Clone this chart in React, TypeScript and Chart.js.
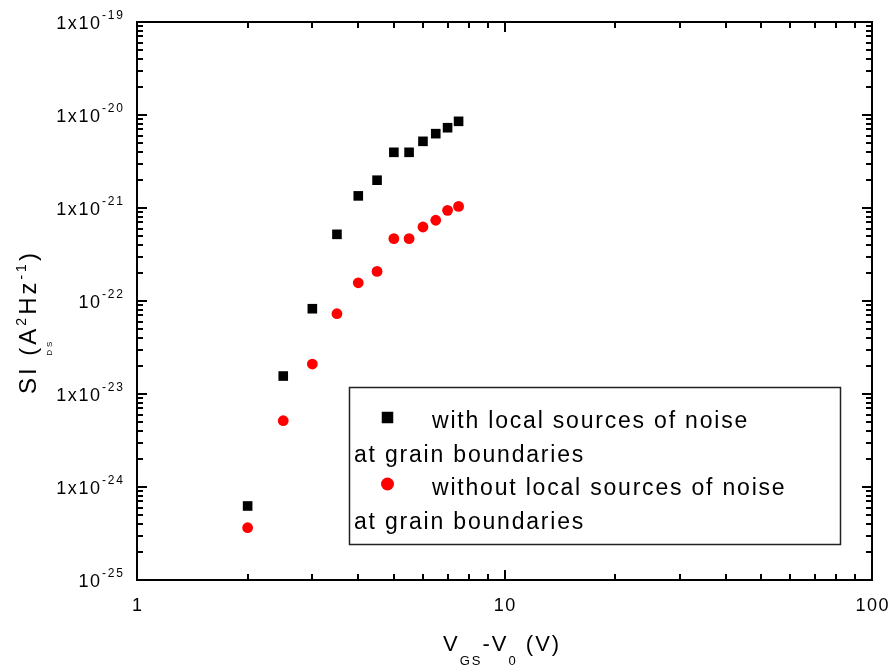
import React, { useEffect, useRef } from 'react';
import { Chart, registerables } from 'chart.js';

Chart.register(...registerables);

const FONT = '"Liberation Sans", Arial, Helvetica, sans-serif';

// ---- data ----
const vgsMinusV0 = [2, 2.5, 3, 3.5, 4, 4.5, 5, 5.5, 6, 6.5, 7, 7.5];
const siWithLocal = [6.25e-25, 1.56e-23, 8.26e-23, 5.21e-22, 1.35e-21, 1.99e-21, 3.97e-21, 3.97e-21, 5.21e-21, 6.3e-21, 7.3e-21, 8.55e-21];
const siWithoutLocal = [3.65e-25, 5.16e-24, 2.1e-23, 7.3e-23, 1.57e-22, 2.08e-22, 4.68e-22, 4.68e-22, 6.25e-22, 7.38e-22, 9.44e-22, 1.04e-21];

const xMin = 1;
const xMax = 100;
const yMin = 1e-25;
const yMax = 1e-19;

const xTickValues = [1, 10, 100];
const xTickLabels = ['1', '10', '100'];
const yTickValues = [1e-19, 1e-20, 1e-21, 1e-22, 1e-23, 1e-24, 1e-25];
const yTickMantissas = ['1x10', '1x10', '1x10', '10', '1x10', '1x10', '10'];
const yTickExponents = ['-19', '-20', '-21', '-22', '-23', '-24', '-25'];

const legendFirstLines = ['with local sources of noise', 'without local sources of noise'];
const legendSecondLines = ['at grain boundaries', 'at grain boundaries'];

type Run = { t: string; s: number; dy: number; adv?: boolean; dx?: number; ls?: number };

function setFont(ctx: CanvasRenderingContext2D, size: number, ls: number) {
  ctx.font = `${size}px ${FONT}`;
  (ctx as any).letterSpacing = `${ls}px`;
}
function measure(ctx: CanvasRenderingContext2D, text: string, size: number, ls: number) {
  ctx.font = `${size}px ${FONT}`;
  (ctx as any).letterSpacing = '0px';
  return ctx.measureText(text).width + ls * text.length;
}
function drawRuns(ctx: CanvasRenderingContext2D, runs: Run[], x: number, y: number, defLs: number) {
  let cx = x;
  for (const r of runs) {
    const ls = r.ls ?? defLs;
    const w = measure(ctx, r.t, r.s, ls);
    setFont(ctx, r.s, ls);
    ctx.fillText(r.t, cx + (r.dx || 0), y + r.dy);
    if (r.adv !== false) cx += w;
  }
}

const axesPlugin = {
  id: 'originAxes',
  afterDraw(chart: any) {
    const ctx: CanvasRenderingContext2D = chart.ctx;
    const { left, right, top, bottom } = chart.chartArea;
    const xs = chart.scales.x;
    const ys = chart.scales.y;
    ctx.save();
    ctx.fillStyle = '#000';
    ctx.strokeStyle = '#000';
    ctx.lineWidth = 2;
    ctx.textBaseline = 'alphabetic';
    ctx.textAlign = 'left';

    // frame
    ctx.beginPath();
    ctx.rect(left, top, right - left, bottom - top);
    ctx.stroke();

    // ticks
    const MAJ = 10;
    const MIN = 6;
    ctx.beginPath();
    for (let d = xMin; d < xMax; d *= 10) {
      for (let k = 1; k <= 9; k++) {
        const v = d * k;
        const px = Math.round(xs.getPixelForValue(v));
        const len = k === 1 ? MAJ : MIN;
        ctx.moveTo(px, bottom); ctx.lineTo(px, bottom - len);
        ctx.moveTo(px, top); ctx.lineTo(px, top + len);
      }
    }
    for (let d = yMin; d < yMax * 0.99; d *= 10) {
      for (let k = 1; k <= 9; k++) {
        const v = d * k;
        const py = Math.round(ys.getPixelForValue(v));
        const len = k === 1 ? MAJ : MIN;
        ctx.moveTo(left, py); ctx.lineTo(left + len, py);
        ctx.moveTo(right, py); ctx.lineTo(right - len, py);
      }
    }
    ctx.stroke();

    // x tick labels
    const TL = 18;
    const TLS = 1.6;
    xTickValues.forEach((v, i) => {
      const px = xs.getPixelForValue(v);
      const w = measure(ctx, xTickLabels[i], TL, TLS) - TLS;
      setFont(ctx, TL, TLS);
      ctx.fillText(xTickLabels[i], px - w / 2, bottom + 31);
    });

    // y tick labels
    yTickValues.forEach((v, i) => {
      const py = ys.getPixelForValue(v);
      const supW = measure(ctx, yTickExponents[i], 12, 1.8) - 1.8;
      const supLeft = 123 - supW;
      setFont(ctx, 12, 1.8);
      ctx.fillText(yTickExponents[i], supLeft, py - 3);
      const mW = measure(ctx, yTickMantissas[i], TL, TLS) - TLS;
      setFont(ctx, TL, TLS);
      ctx.fillText(yTickMantissas[i], supLeft - 2 - mW, py + 7);
    });

    // x title
    drawRuns(ctx, [
      { t: 'V', s: 22, dy: 0 },
      { t: 'GS', s: 13, dy: 14 },
      { t: '-V', s: 22, dy: 0 },
      { t: '0', s: 13, dy: 14 },
      { t: ' (V)', s: 22, dy: 0 },
    ], 443, 651, 2);

    // y title
    ctx.save();
    ctx.translate(36, 394);
    ctx.rotate(-Math.PI / 2);
    drawRuns(ctx, [
      { t: 'SI', s: 24, dy: 0 },
      { t: ' ', s: 24, dy: 0 },
      { t: 'DS', s: 8, dy: 16, adv: false, dx: 0 },
      { t: '(A', s: 24, dy: 0 },
      { t: '2', s: 14, dy: -10 },
      { t: 'Hz', s: 24, dy: 0 },
      { t: '-1', s: 14, dy: -10 },
      { t: ')', s: 24, dy: 0 },
    ], 0, 0, 3);
    ctx.restore();

    // legend box
    ctx.lineWidth = 1.5;
    ctx.strokeStyle = '#222';
    ctx.strokeRect(349.5, 387.5, 491, 157);
    // markers
    ctx.fillStyle = '#000';
    ctx.fillRect(387.5 - 5.75, 417.5 - 5.75, 11.5, 11.5);
    ctx.fillStyle = '#ff0000';
    ctx.beginPath();
    ctx.arc(387.5, 484, 6.5, 0, Math.PI * 2);
    ctx.fill();
    ctx.fillStyle = '#000';
    setFont(ctx, 23, 1.8);
    ctx.fillText(legendFirstLines[0], 432, 428);
    ctx.fillText(legendSecondLines[0], 354, 461.5);
    ctx.fillText(legendFirstLines[1], 432, 495);
    ctx.fillText(legendSecondLines[1], 354, 528.5);

    ctx.restore();
  },
};

export default function App() {
  const ref = useRef<HTMLCanvasElement | null>(null);
  useEffect(() => {
    if (!ref.current) return;
    const chart = new Chart(ref.current, {
      type: 'scatter',
      data: {
        datasets: [
          {
            label: 'with local sources of noise at grain boundaries',
            data: vgsMinusV0.map((x, i) => ({ x, y: siWithLocal[i] })),
            pointStyle: 'rect',
            pointRadius: 6.8,
            backgroundColor: '#000000',
            borderWidth: 0,
          },
          {
            label: 'without local sources of noise at grain boundaries',
            data: vgsMinusV0.map((x, i) => ({ x, y: siWithoutLocal[i] })),
            pointStyle: 'circle',
            pointRadius: 5.4,
            backgroundColor: '#ff0000',
            borderWidth: 0,
          },
        ],
      },
      options: {
        responsive: false,
        animation: false,
        devicePixelRatio: 1,
        layout: { padding: { left: 137, right: 21, top: 22, bottom: 92 } },
        plugins: { legend: { display: false }, tooltip: { enabled: false } },
        scales: {
          x: { type: 'logarithmic', min: xMin, max: xMax, display: false },
          y: { type: 'logarithmic', min: yMin, max: yMax, display: false },
        },
      },
      plugins: [axesPlugin],
    });
    return () => chart.destroy();
  }, []);
  return (
    <div style={{ position: 'absolute', left: 0, top: 0, width: 893, height: 672, background: '#fff' }}>
      <canvas ref={ref} width={893} height={672} style={{ display: 'block' }} />
    </div>
  );
}
